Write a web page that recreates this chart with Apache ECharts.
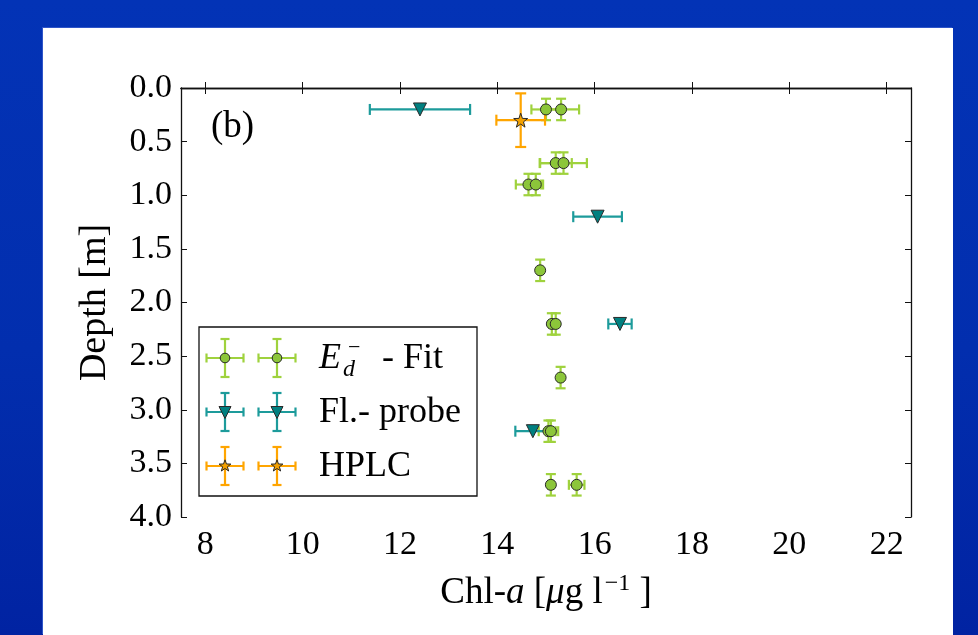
<!DOCTYPE html>
<html>
<head>
<meta charset="utf-8">
<script src="https://cdn.jsdelivr.net/npm/echarts@6/dist/echarts.min.js"></script>
<style>
  html, body { margin: 0; padding: 0; }
  body {
    width: 978px; height: 635px; overflow: hidden; position: relative;
    background: linear-gradient(180deg, #0333b6 0%, #022eae 55%, #0123a2 100%);
  }
  #panel {
    position: absolute; left: 43px; top: 28px; width: 910px; height: 607px;
    background: #ffffff; box-shadow: -1px -1px 0 #2f55c8;
  }
  #chart { position: absolute; left: 0; top: 0; width: 978px; height: 635px; }
</style>
</head>
<body>
<div id="panel"></div>
<div id="chart"></div>
<script>
// Chlorophyll-a profile: E_d^- fit, fluorescence probe and HPLC samples
const xTicks = [8, 10, 12, 14, 16, 18, 20, 22];
const yTicks = [0.0, 0.5, 1.0, 1.5, 2.0, 2.5, 3.0, 3.5, 4.0];

// E_d^- fit
const fitDepth    = [0.2, 0.2, 0.7, 0.7, 0.9, 0.9, 1.7, 2.2, 2.2, 2.7, 3.2, 3.2, 3.7, 3.7];
const fitChl      = [15.00, 15.31, 15.20, 15.36, 14.64, 14.79, 14.88, 15.12, 15.20, 15.30, 15.05, 15.10, 15.10, 15.63];
const fitChlErr   = [0.30, 0.37, 0.33, 0.48, 0.26, 0.15, 0.04, 0.05, 0.05, 0.04, 0.20, 0.10, 0.05, 0.16];
const fitDepthErr = [0.1, 0.1, 0.1, 0.1, 0.1, 0.1, 0.1, 0.1, 0.1, 0.1, 0.1, 0.1, 0.1, 0.1];

// Fluorescence probe
const probeDepth    = [0.2, 1.2, 2.2, 3.2];
const probeChl      = [12.41, 16.06, 16.52, 14.73];
const probeChlErr   = [1.03, 0.50, 0.24, 0.36];
const probeDepthErr = [0, 0, 0, 0];

// HPLC
const hplcDepth    = [0.3];
const hplcChl      = [14.48];
const hplcChlErr   = [0.50];
const hplcDepthErr = [0.25];

const legendNames = ['- Fit', 'Fl.- probe', 'HPLC'];

const FONT = 'Liberation Serif';
const C_FIT_BAR = '#9fd23d', C_FIT = '#8cc63a';
const C_PRB_BAR = '#1d9b9b', C_PRB = '#008080';
const C_HP_BAR = '#ffa500', C_HP = '#f4a100';
const EDGE = '#2a2a2a';

const STAR = 'path://M0,-10L2.35,-3.24L9.51,-3.09L3.8,1.24L5.88,8.09L0,4.1L-5.88,8.09L-3.8,1.24L-9.51,-3.09L-2.35,-3.24Z';

function rows(xs, ys, xe, ye) {
  return xs.map((x, i) => [x, ys[i], xe[i], ye[i]]);
}

function errRender(color, cap, lw) {
  return function (params, api) {
    const x = api.value(0), y = api.value(1), xe = api.value(2), ye = api.value(3);
    const st = { stroke: color, lineWidth: lw };
    const kids = [];
    const seg = (a, b) => kids.push({ type: 'line', shape: { x1: a[0], y1: a[1], x2: b[0], y2: b[1] }, style: st });
    if (xe > 0) {
      const l = api.coord([x - xe, y]), r = api.coord([x + xe, y]);
      seg(l, r);
      seg([l[0], l[1] - cap], [l[0], l[1] + cap]);
      seg([r[0], r[1] - cap], [r[0], r[1] + cap]);
    }
    if (ye > 0) {
      const t = api.coord([x, y - ye]), b = api.coord([x, y + ye]);
      seg(t, b);
      seg([t[0] - cap, t[1]], [t[0] + cap, t[1]]);
      seg([b[0] - cap, b[1]], [b[0] + cap, b[1]]);
    }
    return { type: 'group', children: kids };
  };
}

function errSeries(data, color, cap, lw) {
  return {
    type: 'custom', data: data, renderItem: errRender(color, cap, lw),
    encode: { x: 0, y: 1 }, silent: true, clip: false
  };
}

function markSeries(data, symbol, size, fill, rotate) {
  return {
    type: 'scatter', data: data.map(d => [d[0], d[1]]), symbol: symbol, symbolSize: size,
    symbolRotate: rotate || 0,
    itemStyle: { color: fill, borderColor: EDGE, borderWidth: 1, opacity: 1 },
    silent: true
  };
}

const fitData = rows(fitChl, fitDepth, fitChlErr, fitDepthErr);
const prbData = rows(probeChl, probeDepth, probeChlErr, probeDepthErr);
const hpData = rows(hplcChl, hplcDepth, hplcChlErr, hplcDepthErr);

// legend drawn as graphic: box with crossed error-bar icons
const LG = { left: 199, top: 327, w: 278, h: 169, rows: [358, 412, 466], icons: [225, 277], text: 319 };
function legendIcon(cx, cy, color, marker) {
  const hx = 18.5, hy = 19, cap = 4.5;
  const st = { stroke: color, lineWidth: 2.2 };
  const L = (x1, y1, x2, y2) => ({ type: 'line', shape: { x1, y1, x2, y2 }, style: st });
  const els = [
    L(cx - hx, cy, cx + hx, cy), L(cx, cy - hy, cx, cy + hy),
    L(cx - hx, cy - cap, cx - hx, cy + cap), L(cx + hx, cy - cap, cx + hx, cy + cap),
    L(cx - cap, cy - hy, cx + cap, cy - hy), L(cx - cap, cy + hy, cx + cap, cy + hy)
  ];
  const ms = { fill: marker.fill, stroke: EDGE, lineWidth: 1 };
  if (marker.kind === 'circle') {
    els.push({ type: 'circle', shape: { cx, cy, r: 4.8 }, style: ms });
  } else if (marker.kind === 'tri') {
    els.push({ type: 'polygon', shape: { points: [[cx - 6, cy - 5.5], [cx + 6, cy - 5.5], [cx, cy + 6.5]] }, style: ms });
  } else {
    const pts = [];
    for (let k = 0; k < 10; k++) {
      const a = -Math.PI / 2 + k * Math.PI / 5, r = k % 2 ? 2.5 : 6.2;
      pts.push([cx + r * Math.cos(a), cy + r * Math.sin(a)]);
    }
    els.push({ type: 'polygon', shape: { points: pts }, style: ms });
  }
  return els;
}
const legendMarkers = [
  { bar: C_FIT_BAR, kind: 'circle', fill: C_FIT },
  { bar: C_PRB_BAR, kind: 'tri', fill: C_PRB },
  { bar: C_HP_BAR, kind: 'star', fill: C_HP }
];
const legendEls = [{
  type: 'rect', shape: { x: LG.left, y: LG.top, width: LG.w, height: LG.h },
  style: { fill: '#fff', stroke: '#111', lineWidth: 1.3 }
}];
legendMarkers.forEach((m, i) => {
  LG.icons.forEach(cx => legendIcon(cx, LG.rows[i], m.bar, m).forEach(e => legendEls.push(e)));
});
const tStyle = (txt, x, y, size, italic) => ({
  type: 'text', x, y,
  style: { text: txt, font: (italic ? 'italic ' : '') + size + 'px "' + FONT + '"', fill: '#000', verticalAlign: 'middle', align: 'left' }
});
legendEls.push(tStyle('E', LG.text, LG.rows[0] + 1, 36, true));
legendEls.push(tStyle('\u2212', LG.text + 29, LG.rows[0] - 10, 22, false));
legendEls.push(tStyle('d', LG.text + 24, LG.rows[0] + 12, 24, true));
legendEls.push(tStyle(legendNames[0], LG.text + 63, LG.rows[0] + 1, 36, false));
legendEls.push(tStyle(legendNames[1], LG.text, LG.rows[1] + 1, 36, false));
legendEls.push(tStyle(legendNames[2], LG.text, LG.rows[2] + 1, 36, false));

const chart = echarts.init(document.getElementById('chart'), null, { renderer: 'canvas' });

const axisLine = { show: true, lineStyle: { color: '#111', width: 1.3 } };
const tickStyle = { inside: true, length: 6, lineStyle: { color: '#111', width: 1 } };

chart.setOption({
  backgroundColor: 'transparent',
  animation: false,
  grid: { left: 181, right: 67, top: 88, bottom: 118, containLabel: false },
  xAxis: [{
    type: 'value', min: 7.5, max: 22.5, position: 'bottom',
    name: '{n|Chl-}{i|a}{n| [}{i|\u03bc}{n|g l}{s|\u22121}{n| ]}',
    nameLocation: 'middle', nameGap: 55,
    nameTextStyle: {
      fontFamily: FONT, fontSize: 37, color: '#000',
      rich: {
        n: { fontFamily: FONT, fontSize: 37, color: '#000', lineHeight: 40, verticalAlign: 'bottom' },
        i: { fontFamily: FONT, fontSize: 37, fontStyle: 'italic', color: '#000', lineHeight: 40, verticalAlign: 'bottom' },
        s: { fontFamily: FONT, fontSize: 24, color: '#000', lineHeight: 40, verticalAlign: 'top', padding: [0, 0, 0, 2] }
      }
    },
    axisLine: axisLine, splitLine: { show: false },
    axisTick: Object.assign({ customValues: xTicks }, tickStyle),
    axisLabel: { customValues: xTicks, fontFamily: FONT, fontSize: 34, color: '#000', margin: 11 }
  }, {
    type: 'value', min: 7.5, max: 22.5, position: 'top',
    axisLine: axisLine, splitLine: { show: false },
    axisTick: Object.assign({ customValues: xTicks }, tickStyle),
    axisLabel: { show: false }
  }],
  yAxis: [{
    type: 'value', min: 0, max: 4, interval: 0.5, inverse: true, position: 'left',
    name: 'Depth [m]', nameLocation: 'middle', nameGap: 67, nameRotate: 90,
    nameTextStyle: { fontFamily: FONT, fontSize: 38, color: '#000' },
    axisLine: axisLine, splitLine: { show: false },
    axisTick: tickStyle,
    axisLabel: { fontFamily: FONT, fontSize: 34, color: '#000', margin: 9, formatter: v => v.toFixed(1) }
  }, {
    type: 'value', min: 0, max: 4, interval: 0.5, inverse: true, position: 'right',
    axisLine: axisLine, splitLine: { show: false },
    axisTick: tickStyle, axisLabel: { show: false }
  }],
  graphic: [
    { type: 'text', left: 211, top: 109, style: { text: '(b)', font: '37px "' + FONT + '"', fill: '#000' } },
    { type: 'group', children: legendEls }
  ],
  series: [
    errSeries(fitData, C_FIT_BAR, 5, 2.2),
    markSeries(fitData, 'circle', 11, C_FIT),
    errSeries(prbData, C_PRB_BAR, 5.5, 2.2),
    markSeries(prbData, 'triangle', 13, C_PRB, 180),
    errSeries(hpData, C_HP_BAR, 5.5, 2.2),
    markSeries(hpData, STAR, 14, C_HP)
  ]
});
</script>
</body>
</html>
